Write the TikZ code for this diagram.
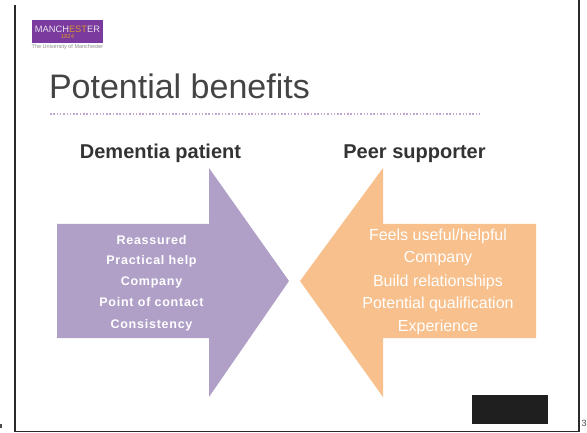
\documentclass[tikz,border=0pt]{standalone}
\usepackage{fontspec}
\setmainfont{Liberation Sans}
\definecolor{lilac}{HTML}{B0A0C8}
\definecolor{peach}{HTML}{F7C08C}
\definecolor{titlegrey}{HTML}{444444}
\definecolor{uom}{HTML}{7A3A9E}
\definecolor{uomgold}{HTML}{D9962F}
\definecolor{framecol}{HTML}{2A2A2A}
\tikzset{
  every node/.style={inner sep=0pt,outer sep=0pt},
  framerule/.style={draw=framecol,line width=1.5pt},
  blocktitle/.style={font=\fontsize{20}{22}\selectfont\bfseries,text=black!80},
  benefitL/.style={font=\fontsize{12.5}{14}\selectfont\bfseries\addfontfeatures{LetterSpace=6},text=white,anchor=center},
  benefitR/.style={font=\fontsize{16}{18}\selectfont,text=white,anchor=center},
}
\begin{document}
\begin{tikzpicture}[x=1pt,y=-1pt]
\useasboundingbox[fill=white] (0,0) rectangle (587,433);
% frame
\draw[framerule] (15,5) -- (15,431.5) -- (579,431.5) -- (579,0);
\fill[black!70] (0,424) rectangle (2,428);
\node[font=\fontsize{9}{9}\selectfont,text=black!70] (pagemark) at (584,423) {3};
% logo
\fill[uom] (32,20) rectangle (103,43);
\node[font=\fontsize{9.3}{10}\selectfont,text=white!85!uom] (logotext) at (67.5,29.5) {MANCH\textcolor{uomgold}{EST}ER};
\node[font=\fontsize{6}{6}\selectfont,text=uomgold] (logoyear) at (67.5,36.5) {1824};
\node[font=\fontsize{5.5}{6}\selectfont,text=black!45] (logosub) at (67.5,47) {The University of Manchester};
% title
\node[anchor=base west,font=\fontsize{34}{36}\selectfont,text=titlegrey] (title) at (49,98.5) {Potential benefits};
\draw[draw=uom!45,line width=1.6pt,dash pattern=on 1.5pt off 1.8pt] (50,114) -- (480,114);
% headings
\node[blocktitle] (headL) at (160.5,153.5) {Dementia patient};
\node[blocktitle] (headR) at (414.5,153.5) {Peer supporter};
% arrows
\fill[lilac] (57,224) -- (209,224) -- (209,168) -- (289,281) -- (209,397) -- (209,338) -- (57,338) -- cycle;
\fill[peach] (536,224) -- (383,224) -- (383,168) -- (300,281) -- (383,397) -- (383,338) -- (536,338) -- cycle;
% left list
\node[benefitL] (l1) at (151.5,240) {Reassured};
\node[benefitL] (l2) at (151.5,261) {Practical help};
\node[benefitL] (l3) at (151.5,282) {Company};
\node[benefitL] (l4) at (151.5,302.5) {Point of contact};
\node[benefitL] (l5) at (151.5,325.5) {Consistency};
% right list
\node[benefitR] (r1) at (438,236) {Feels useful/helpful};
\node[benefitR] (r2) at (438,259) {Company};
\node[benefitR] (r3) at (438,282) {Build relationships};
\node[benefitR] (r4) at (438,304.5) {Potential qualification};
\node[benefitR] (r5) at (438,327) {Experience};
% black box
\fill[black!88] (472,395) rectangle (548,424);
\end{tikzpicture}
\end{document}
